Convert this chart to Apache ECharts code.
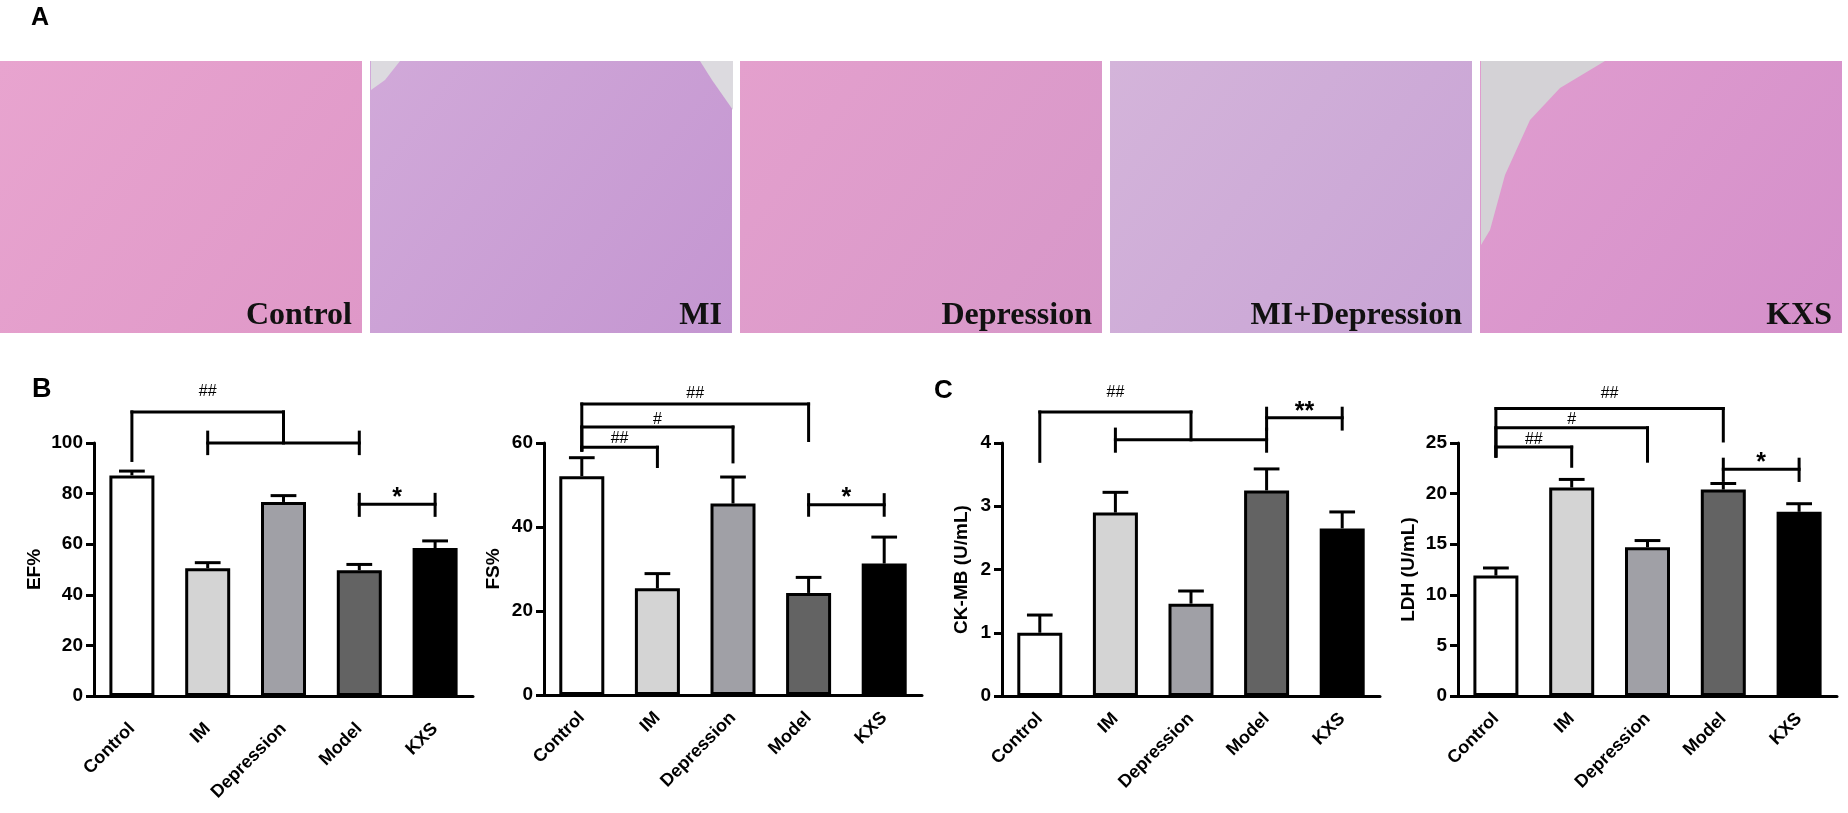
<!DOCTYPE html>
<html>
<head>
<meta charset="utf-8">
<script src="https://cdn.jsdelivr.net/npm/echarts@6/dist/echarts.min.js"></script>
<style>
html, body { margin: 0; padding: 0; background: #fff; }
#chart { width: 1848px; height: 813px; }
</style>
</head>
<body>
<div id="chart"></div>
<script>
// groups + fill colours (white -> black)
var groups = ['Control', 'IM', 'Depression', 'Model', 'KXS'];
var barColors = ['#ffffff', '#d4d4d4', '#a0a0a6', '#636363', '#000000'];

// mean / SEM
var efMean = [87.2, 50.5, 76.7, 49.7, 58.5];
var efSem = [1.7, 2.2, 2.5, 2.3, 2.8];
var fsMean = [52.1, 25.4, 45.6, 24.3, 31.3];
var fsSem = [4.4, 3.5, 6.3, 3.7, 6.3];
var ckMean = [1.00, 2.90, 1.46, 3.25, 2.65];
var ckSem = [0.28, 0.32, 0.20, 0.34, 0.26];
var ldhMean = [11.9, 20.6, 14.7, 20.4, 18.2];
var ldhSem = [0.75, 0.8, 0.66, 0.6, 0.8];

// brackets: [from, to, level, leftTop, leftBottom, rightTop, rightBottom, text, textLevel]
var efBrackets = [
  [0, 2, 112.3, 112.3, 93.1, 112.3, 100, '##', 120.4],
  [1, 3, 100, 104.3, 95.8, 104.3, 95.8, '', 0],
  [3, 4, 75.8, 79.7, 71.4, 79.7, 71.4, '*', 80.2]
];
var fsBrackets = [
  [0, 3, 69.3, 69.3, 58.3, 69.3, 60.6, '##', 71.7],
  [0, 2, 63.8, 63.8, 58.3, 63.8, 55.5, '#', 65.5],
  [0, 1, 59.0, 59.0, 58.3, 59.0, 54.4, '##', 61.0],
  [3, 4, 45.3, 47.7, 42.8, 47.7, 42.8, '*', 48.0]
];
var ckBrackets = [
  [0, 2, 4.49, 4.49, 3.71, 4.49, 4.05, '##', 4.80],
  [1, 3, 4.05, 4.22, 3.87, 4.22, 3.87, '', 0],
  [3, 4, 4.40, 4.55, 4.22, 4.55, 4.22, '**', 4.57]
];
var ldhBrackets = [
  [0, 3, 28.4, 28.4, 23.7, 28.4, 25.2, '##', 29.9],
  [0, 2, 26.5, 26.5, 23.7, 26.5, 23.2, '#', 27.3],
  [0, 1, 24.6, 24.6, 23.7, 24.6, 22.7, '##', 25.3],
  [3, 4, 22.4, 23.4, 21.3, 23.4, 21.3, '*', 23.5]
];

// axis settings
var yNames = ['EF%', 'FS%', 'CK-MB (U/mL)', 'LDH (U/mL)'];
var yMax = [100, 60, 4, 25];
var yStep = [20, 20, 1, 5];

// panel A pictures (stand-ins for the stained sections)
var photoLabels = ['Control', 'MI', 'Depression', 'MI+Depression', 'KXS'];
var photoTints = [['#e8a4cf', '#df98c8'], ['#d1a9d9', '#c496d1'], ['#e4a0cd', '#d797c9'], ['#d4b4da', '#c8a3d5'], ['#e09dcf', '#d48fca']];

var FONT = '"Liberation Sans", Arial, sans-serif';
var chart = echarts.init(document.getElementById('chart'));

var grids = [
  { left: 94, top: 443, width: 379, height: 253 },
  { left: 544, top: 443, width: 378, height: 252 },
  { left: 1002, top: 443, width: 378, height: 253 },
  { left: 1458, top: 443, width: 379, height: 253 }
];
var nameGaps = [50, 41, 31, 40];
var labelMargins = [30, 20, 20, 20];

function errorItem(params, api) {
  var i = api.value(0);
  var base = api.coord([i, api.value(1)]);
  var top = api.coord([i, api.value(2)]);
  var half = api.size([1, 0])[0] * 0.17;
  var st = { stroke: '#000', lineWidth: 3 };
  return {
    type: 'group',
    children: [
      { type: 'line', shape: { x1: base[0], y1: base[1], x2: top[0], y2: top[1] }, style: st },
      { type: 'line', shape: { x1: top[0] - half, y1: top[1], x2: top[0] + half, y2: top[1] }, style: st }
    ]
  };
}

function makeBracket(rows) {
  return function (params, api) {
    var r = rows[params.dataIndex];
    var a = api.coord([r[0], r[2]]);
    var b = api.coord([r[1], r[2]]);
    var lt = api.coord([r[0], r[3]])[1], lb = api.coord([r[0], r[4]])[1];
    var rt = api.coord([r[1], r[5]])[1], rb = api.coord([r[1], r[6]])[1];
    var st = { stroke: '#000', lineWidth: 3, lineCap: 'square' };
    var kids = [
      { type: 'line', shape: { x1: a[0], y1: a[1], x2: b[0], y2: b[1] }, style: st },
      { type: 'line', shape: { x1: a[0], y1: lt, x2: a[0], y2: lb }, style: st },
      { type: 'line', shape: { x1: b[0], y1: rt, x2: b[0], y2: rb }, style: st }
    ];
    if (r[7]) {
      var ty = api.coord([r[0], r[8]])[1];
      var star = r[7].indexOf('*') >= 0;
      kids.push({
        type: 'text',
        x: (a[0] + b[0]) / 2,
        y: ty + (star ? 5 : 0),
        style: {
          text: r[7], fill: '#000', align: 'center', verticalAlign: 'middle',
          font: star ? 'bold 25px ' + FONT : '16px ' + FONT
        }
      });
    }
    return { type: 'group', children: kids };
  };
}

var means = [efMean, fsMean, ckMean, ldhMean];
var sems = [efSem, fsSem, ckSem, ldhSem];
var brackets = [efBrackets, fsBrackets, ckBrackets, ldhBrackets];

var xAxes = [], yAxes = [], series = [];
for (var k = 0; k < 4; k++) {
  xAxes.push({
    type: 'category', gridIndex: k, data: groups,
    axisLine: { lineStyle: { color: '#000', width: 3 } },
    axisTick: { alignWithLabel: true, length: 8, lineStyle: { color: '#000', width: 3 } },
    axisLabel: { rotate: 45, interval: 0, margin: labelMargins[k], color: '#000', fontWeight: 'bold', fontSize: 18, fontFamily: FONT }
  });
  yAxes.push({
    type: 'value', gridIndex: k, min: 0, max: yMax[k], interval: yStep[k],
    name: yNames[k], nameLocation: 'middle', nameRotate: 90, nameGap: nameGaps[k],
    nameTextStyle: { color: '#000', fontWeight: 'bold', fontSize: 19, fontFamily: FONT },
    axisLine: { show: true, lineStyle: { color: '#000', width: 3 } },
    axisTick: { show: true, length: 8, lineStyle: { color: '#000', width: 3 } },
    axisLabel: { margin: 11, color: '#000', fontWeight: 'bold', fontSize: 19, fontFamily: FONT },
    splitLine: { show: false }
  });
  series.push({
    type: 'bar', xAxisIndex: k, yAxisIndex: k, data: means[k], barWidth: 45,
    itemStyle: {
      borderColor: '#000', borderWidth: 3,
      color: function (p) { return barColors[p.dataIndex]; }
    }
  });
  series.push({
    type: 'custom', xAxisIndex: k, yAxisIndex: k, z: 3, clip: false,
    renderItem: errorItem,
    encode: { x: 0, y: [1, 2] },
    data: means[k].map(function (m, i) { return [i, m, m + sems[k][i]]; })
  });
  series.push({
    type: 'custom', xAxisIndex: k, yAxisIndex: k, z: 4, clip: false,
    renderItem: makeBracket(brackets[k]),
    encode: { x: 0, y: 1 },
    data: brackets[k].map(function (b) { return [b[0], b[2]]; })
  });
}

// panel A: tinted boxes with the group names, plus panel letters
var graphics = [];
for (var p = 0; p < 5; p++) {
  var x0 = p * 370;
  graphics.push({
    type: 'rect', left: x0, top: 61, z: 0,
    shape: { width: 362, height: 272 },
    style: {
      fill: new echarts.graphic.LinearGradient(0, 0, 1, 1, [
        { offset: 0, color: photoTints[p][0] },
        { offset: 1, color: photoTints[p][1] }
      ])
    }
  });
}
// blank glass areas seen in a few sections
graphics.push({ type: 'polygon', z: 1, shape: { points: [[371, 61], [400, 61], [385, 80], [371, 90]] }, style: { fill: '#dcdadf' } });
graphics.push({ type: 'polygon', z: 1, shape: { points: [[700, 61], [733, 61], [733, 110], [712, 80]] }, style: { fill: '#dcdadf' } });
graphics.push({ type: 'polygon', z: 1, shape: { points: [[1481, 61], [1605, 61], [1560, 88], [1530, 120], [1505, 175], [1490, 230], [1481, 245]] }, style: { fill: '#d4d2d6' } });
for (var q = 0; q < 5; q++) {
  graphics.push({
    type: 'text', z: 2, x: q * 370 + 352, y: 316,
    style: { text: photoLabels[q], fill: '#111', align: 'right', verticalAlign: 'middle', font: 'bold 32px "Liberation Serif", "Times New Roman", serif' }
  });
}
graphics.push({ type: 'text', left: 31, top: 6, style: { text: 'A', fill: '#000', font: 'bold 25px ' + FONT } });
graphics.push({ type: 'text', left: 32, top: 376, style: { text: 'B', fill: '#000', font: 'bold 27px ' + FONT } });
graphics.push({ type: 'text', left: 934, top: 378, style: { text: 'C', fill: '#000', font: 'bold 26px ' + FONT } });

chart.setOption({
  animation: false,
  backgroundColor: '#fff',
  grid: grids,
  xAxis: xAxes,
  yAxis: yAxes,
  series: series,
  graphic: graphics
});
</script>
</body>
</html>
